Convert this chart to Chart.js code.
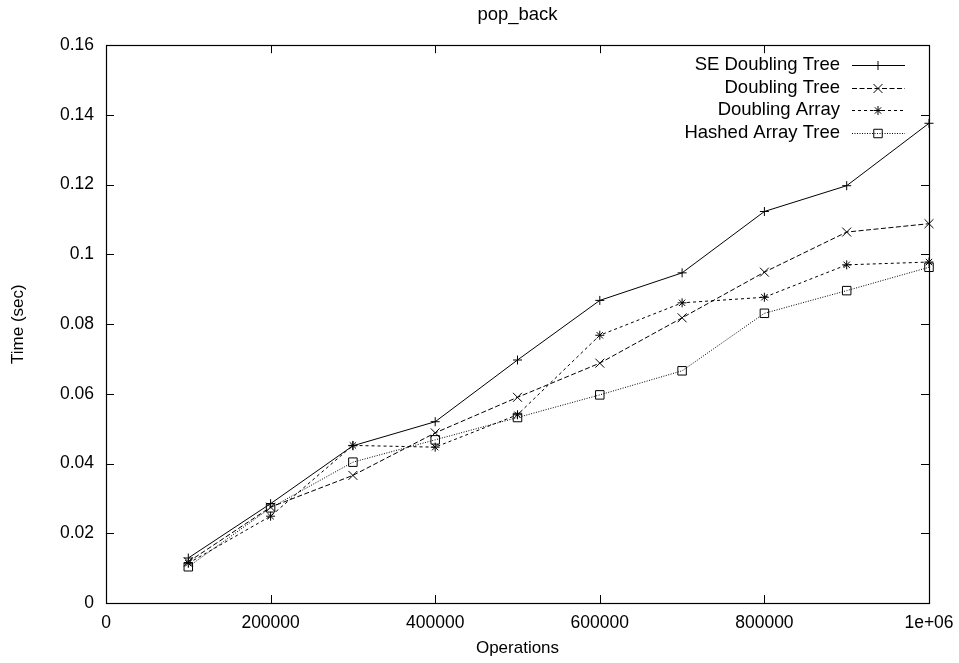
<!DOCTYPE html>
<html>
<head>
<meta charset="utf-8">
<script src="https://cdn.jsdelivr.net/npm/chart.js@4"></script>
<style>
html,body{margin:0;padding:0;background:#fff;}
canvas{display:block;}
</style>
</head>
<body>
<canvas id="c" width="959" height="663"></canvas>
<script>
const operations = [100000, 200000, 300000, 400000, 500000, 600000, 700000, 800000, 900000, 1000000];
const seDoublingTree = [0.0129, 0.0285, 0.0451, 0.0520, 0.0697, 0.0868, 0.0947, 0.1123, 0.1197, 0.1376];
const doublingTree = [0.0118, 0.0275, 0.0366, 0.0488, 0.0590, 0.0688, 0.0818, 0.0949, 0.1064, 0.1088];
const doublingArray = [0.0114, 0.0249, 0.0452, 0.0447, 0.0540, 0.0768, 0.0861, 0.0877, 0.0970, 0.0978];
const hashedArrayTree = [0.0104, 0.0273, 0.0404, 0.0468, 0.0532, 0.0597, 0.0666, 0.0831, 0.0896, 0.0963];
const seriesNames = ['SE Doubling Tree', 'Doubling Tree', 'Doubling Array', 'Hashed Array Tree'];
const xTickLabels = {0:'0', 200000:'200000', 400000:'400000', 600000:'600000', 800000:'800000', 1000000:'1e+06'};

const FONT = "'Liberation Sans', Arial, Helvetica, sans-serif";
const toPts = vals => vals.map((v, i) => ({x: operations[i], y: v}));

const styles = [
  {dash: [], point: 'cross', r: 4.5},
  {dash: [5, 2.5], point: 'crossRot', r: 6.3},
  {dash: [3, 3], point: 'star', r: 4.5},
  {dash: [1, 1.5], point: 'rect', r: 6}
];
const allSeries = [seDoublingTree, doublingTree, doublingArray, hashedArrayTree];

const datasets = allSeries.map((s, i) => ({
  label: seriesNames[i],
  data: toPts(s),
  borderColor: '#000',
  borderWidth: 1,
  borderDash: styles[i].dash,
  pointStyle: styles[i].point,
  pointRadius: styles[i].r,
  pointBorderColor: '#000',
  pointBackgroundColor: 'rgba(0,0,0,0)',
  pointBorderWidth: 1,
  fill: false,
  tension: 0,
  clip: false
}));

const framePlugin = {
  id: 'frame',
  beforeDatasetsDraw(chart) {
    const {ctx, chartArea: a, scales: {x, y}} = chart;
    ctx.save();
    ctx.strokeStyle = '#000';
    ctx.lineWidth = 1.2;
    ctx.setLineDash([]);
    ctx.strokeRect(Math.round(a.left) + 0.5, Math.round(a.top) + 0.5, Math.round(a.right - a.left), Math.round(a.bottom - a.top));
    ctx.lineWidth = 1;
    const L = 8;
    ctx.beginPath();
    x.ticks.forEach(t => {
      const px = Math.round(x.getPixelForValue(t.value)) + 0.5;
      ctx.moveTo(px, a.bottom); ctx.lineTo(px, a.bottom - L);
      ctx.moveTo(px, a.top); ctx.lineTo(px, a.top + L);
    });
    y.ticks.forEach(t => {
      const py = Math.round(y.getPixelForValue(t.value)) + 0.5;
      ctx.moveTo(a.left, py); ctx.lineTo(a.left + L, py);
      ctx.moveTo(a.right, py); ctx.lineTo(a.right - L, py);
    });
    ctx.stroke();
    ctx.restore();
  }
};

const legendPlugin = {
  id: 'gpLegend',
  afterDraw(chart) {
    const {ctx} = chart;
    ctx.save();
    ctx.font = "18.5px " + FONT;
    ctx.textAlign = 'right';
    ctx.textBaseline = 'middle';
    chart.data.datasets.forEach((ds, i) => {
      const yy = 65 + i * 22.5;
      ctx.fillStyle = '#000';
      ctx.fillText(ds.label, 840, yy);
      ctx.strokeStyle = '#000';
      ctx.lineWidth = 1;
      ctx.setLineDash(ds.borderDash);
      ctx.beginPath();
      ctx.moveTo(852, Math.round(yy) + 0.5);
      ctx.lineTo(905, Math.round(yy) + 0.5);
      ctx.stroke();
      ctx.setLineDash([]);
      ctx.fillStyle = 'rgba(0,0,0,0)';
      Chart.helpers.drawPoint(ctx, {pointStyle: ds.pointStyle, radius: ds.pointRadius, borderWidth: 1}, 878, Math.round(yy) + 0.5);
    });
    ctx.restore();
  }
};

new Chart(document.getElementById('c'), {
  type: 'line',
  data: {datasets},
  options: {
    responsive: false,
    animation: false,
    layout: {padding: {left: 0, right: 30, top: 0, bottom: 0}},
    plugins: {
      legend: {display: false},
      tooltip: {enabled: false},
      title: {
        display: true, text: 'pop_back', color: '#000', fullSize: false,
        font: {family: FONT, size: 18.5, weight: 'normal'},
        padding: {top: 4, bottom: 19}
      }
    },
    scales: {
      x: {
        type: 'linear', min: 0, max: 1000000,
        grid: {display: false, drawTicks: false},
        border: {display: false},
        ticks: {
          stepSize: 200000, autoSkip: false, maxRotation: 0, padding: 10,
          color: '#000', font: {family: FONT, size: 17.5},
          callback: v => xTickLabels[v] !== undefined ? xTickLabels[v] : ''
        },
        title: {display: true, text: 'Operations', color: '#000', font: {family: FONT, size: 17}, padding: {top: 0, bottom: 4}},
        afterFit(s) { s.height = 60; s.paddingLeft = 0; s.paddingRight = 0; }
      },
      y: {
        min: 0, max: 0.16,
        grid: {display: false, drawTicks: false},
        border: {display: false},
        ticks: {
          stepSize: 0.02, padding: 12, color: '#000', font: {family: FONT, size: 17.5},
          callback: v => String(+v.toFixed(2))
        },
        title: {display: true, text: 'Time (sec)', color: '#000', font: {family: FONT, size: 17}, padding: {top: 8, bottom: 0}},
        afterFit(s) { s.width = 106; s.paddingTop = 0; s.paddingBottom = 0; }
      }
    }
  },
  plugins: [framePlugin, legendPlugin]
});
</script>
</body>
</html>
